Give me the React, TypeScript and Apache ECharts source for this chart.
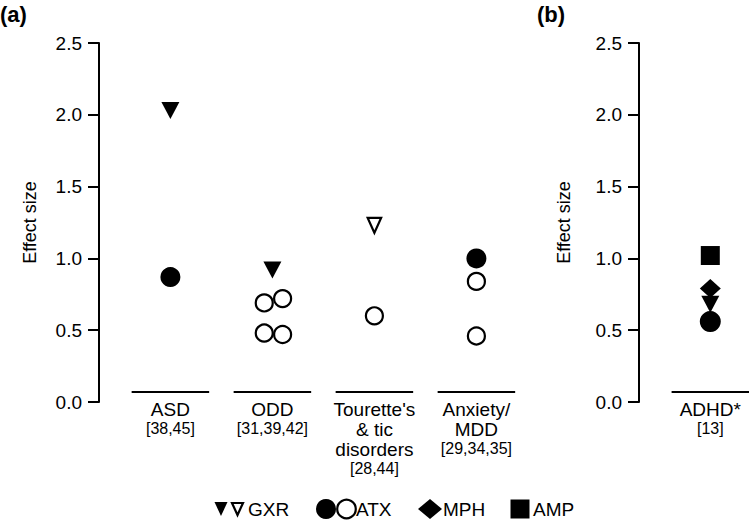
import React, { useEffect, useRef } from "react";
import * as echarts from "echarts";

const FONT = "'Liberation Sans', Arial, Helvetica, sans-serif";

// Panel (a) categories and references
const leftCategories = ["ASD", "ODD", "Tourette's\n& tic\ndisorders", "Anxiety/\nMDD"];
const leftRefs = ["[38,45]", "[31,39,42]", "[28,44]", "[29,34,35]"];

// Panel (b)
const rightCategories = ["ADHD*"];
const rightRefs = ["[13]"];

// GXR (filled and open symbols)
const gxrFilledCat = [0, 1];
const gxrFilledVal = [2.03, 0.92];
const gxrOpenCat = [2];
const gxrOpenVal = [1.23];

// ATX
const atxFilledCat = [0, 3];
const atxFilledVal = [0.87, 1.0];
const atxOpenCat = [1, 1, 1, 1, 2, 3, 3];
const atxOpenVal = [0.69, 0.72, 0.48, 0.47, 0.6, 0.84, 0.46];
const atxOpenJitter = [-0.08, 0.1, -0.08, 0.1, 0, 0, 0];

// ADHD panel values
const adhdAMP = [1.02];
const adhdMPH = [0.79];
const adhdGXR = [0.68];
const adhdATX = [0.56];

const yTicks = { min: 0, max: 2.5, interval: 0.5 };

export default function App() {
  const ref = useRef<HTMLDivElement>(null);

  useEffect(() => {
    const chart = echarts.init(ref.current!, null, { renderer: "svg" });

    const yAxisFor = (gridIndex: number, nameGap: number) => ({
      type: "value",
      gridIndex,
      min: yTicks.min,
      max: yTicks.max,
      interval: yTicks.interval,
      name: "Effect size",
      nameLocation: "middle",
      nameGap,
      nameRotate: 90,
      nameTextStyle: { fontFamily: FONT, fontSize: 18, color: "#000" },
      axisLine: { show: true, onZero: false, lineStyle: { color: "#000", width: 2 } },
      axisTick: { show: true, inside: false, length: 11, lineStyle: { color: "#000", width: 2 } },
      axisLabel: {
        margin: 17,
        fontFamily: FONT,
        fontSize: 19,
        color: "#000",
        formatter: (v: number) => v.toFixed(1),
      },
      splitLine: { show: false },
    });

    const xAxisFor = (gridIndex: number, max: number) => ({
      type: "value",
      gridIndex,
      min: -0.7,
      max,
      show: false,
    });

    const labelSeries = (xAxisIndex: number, yAxisIndex: number, cats: string[], refs: string[]) => ({
      type: "custom",
      xAxisIndex,
      yAxisIndex,
      clip: false,
      silent: true,
      z: 1,
      data: cats.map((_, i) => [i]),
      renderItem: (_params: any, api: any) => {
        const i = api.value(0) as number;
        const a = api.coord([i - 0.38, 0]);
        const b = api.coord([i + 0.38, 0]);
        const cx = (a[0] + b[0]) / 2;
        const text =
          cats[i]
            .split("\n")
            .map((s) => `{m|${s}}`)
            .join("\n") + `\n{r|${refs[i]}}`;
        return {
          type: "group",
          children: [
            {
              type: "line",
              shape: { x1: a[0], y1: a[1] - 10, x2: b[0], y2: b[1] - 10 },
              style: { stroke: "#000", lineWidth: 2 },
            },
            {
              type: "text",
              x: cx,
              y: a[1] - 3,
              style: {
                text,
                align: "center",
                verticalAlign: "top",
                fill: "#000",
                rich: {
                  m: { fontFamily: FONT, fontSize: 19, lineHeight: 20, fill: "#000" },
                  r: { fontFamily: FONT, fontSize: 16, lineHeight: 19, fill: "#000" },
                },
              },
            },
          ],
        };
      },
    });

    const filled = { color: "#000", opacity: 1 };
    const open = { color: "#fff", borderColor: "#000", borderWidth: 2.2, opacity: 1 };

    const option: any = {
      animation: false,
      backgroundColor: "#fff",
      grid: [
        { left: 99, top: 43, width: 438.6, height: 359 },
        { left: 639, top: 43, width: 110.2, height: 359 },
      ],
      xAxis: [xAxisFor(0, 3.6), xAxisFor(1, 0.38)],
      yAxis: [yAxisFor(0, 60), yAxisFor(1, 66)],
      series: [
        labelSeries(0, 0, leftCategories, leftRefs),
        labelSeries(1, 1, rightCategories, rightRefs),
        {
          type: "scatter",
          name: "GXR",
          xAxisIndex: 0,
          yAxisIndex: 0,
          symbol: "triangle",
          symbolRotate: 180,
          symbolSize: [18, 17],
          itemStyle: filled,
          data: gxrFilledCat.map((c, i) => [c, gxrFilledVal[i]]),
        },
        {
          type: "scatter",
          name: "GXR open",
          xAxisIndex: 0,
          yAxisIndex: 0,
          symbol: "triangle",
          symbolRotate: 180,
          symbolSize: [13.5, 15],
          itemStyle: open,
          data: gxrOpenCat.map((c, i) => [c, gxrOpenVal[i]]),
        },
        {
          type: "scatter",
          name: "ATX",
          xAxisIndex: 0,
          yAxisIndex: 0,
          symbol: "circle",
          symbolSize: 20,
          itemStyle: filled,
          data: atxFilledCat.map((c, i) => [c, atxFilledVal[i]]),
        },
        {
          type: "scatter",
          name: "ATX open",
          xAxisIndex: 0,
          yAxisIndex: 0,
          symbol: "circle",
          symbolSize: 17,
          itemStyle: open,
          data: atxOpenCat.map((c, i) => [c + atxOpenJitter[i], atxOpenVal[i]]),
        },
        {
          type: "scatter",
          name: "AMP",
          xAxisIndex: 1,
          yAxisIndex: 1,
          symbol: "rect",
          symbolSize: 19,
          itemStyle: filled,
          data: adhdAMP.map((v) => [0, v]),
        },
        {
          type: "scatter",
          name: "GXR adhd",
          xAxisIndex: 1,
          yAxisIndex: 1,
          symbol: "triangle",
          symbolRotate: 180,
          symbolSize: [18, 17],
          itemStyle: filled,
          data: adhdGXR.map((v) => [0, v]),
        },
        {
          type: "scatter",
          name: "MPH",
          xAxisIndex: 1,
          yAxisIndex: 1,
          symbol: "diamond",
          symbolSize: [21, 19],
          itemStyle: filled,
          data: adhdMPH.map((v) => [0, v]),
        },
        {
          type: "scatter",
          name: "ATX adhd",
          xAxisIndex: 1,
          yAxisIndex: 1,
          symbol: "circle",
          symbolSize: 21,
          itemStyle: filled,
          data: adhdATX.map((v) => [0, v]),
        },
      ],
      graphic: [
        {
          type: "text",
          left: 0,
          top: 3,
          style: { text: "(a)", font: `bold 22px ${FONT}`, fill: "#000" },
        },
        {
          type: "text",
          left: 537,
          top: 3,
          style: { text: "(b)", font: `bold 22px ${FONT}`, fill: "#000" },
        },
        // legend
        {
          type: "polygon",
          shape: { points: [[214.5, 502], [227.5, 502], [221, 516]] },
          style: { fill: "#000" },
        },
        {
          type: "polygon",
          shape: { points: [[232, 503], [243, 503], [237.5, 515]] },
          style: { fill: "#fff", stroke: "#000", lineWidth: 2.2 },
        },
        {
          type: "text",
          x: 248,
          y: 509,
          style: { text: "GXR", font: `19px ${FONT}`, fill: "#000", verticalAlign: "middle", align: "left" },
        },
        { type: "circle", shape: { cx: 326, cy: 509, r: 10 }, style: { fill: "#000" } },
        {
          type: "circle",
          shape: { cx: 346.5, cy: 509, r: 9.3 },
          style: { fill: "#fff", stroke: "#000", lineWidth: 2.2 },
        },
        {
          type: "text",
          x: 356,
          y: 509,
          style: { text: "ATX", font: `19px ${FONT}`, fill: "#000", verticalAlign: "middle", align: "left" },
        },
        {
          type: "polygon",
          shape: { points: [[418, 509], [430, 499], [442, 509], [430, 519]] },
          style: { fill: "#000" },
        },
        {
          type: "text",
          x: 443,
          y: 509,
          style: { text: "MPH", font: `19px ${FONT}`, fill: "#000", verticalAlign: "middle", align: "left" },
        },
        { type: "rect", shape: { x: 510.5, y: 499.5, width: 19, height: 19 }, style: { fill: "#000" } },
        {
          type: "text",
          x: 533,
          y: 509,
          style: { text: "AMP", font: `19px ${FONT}`, fill: "#000", verticalAlign: "middle", align: "left" },
        },
      ],
    };

    chart.setOption(option);
    return () => chart.dispose();
  }, []);

  return (
    <div
      ref={ref}
      style={{ position: "absolute", left: 0, top: 0, width: 749, height: 520, background: "#fff" }}
    />
  );
}
